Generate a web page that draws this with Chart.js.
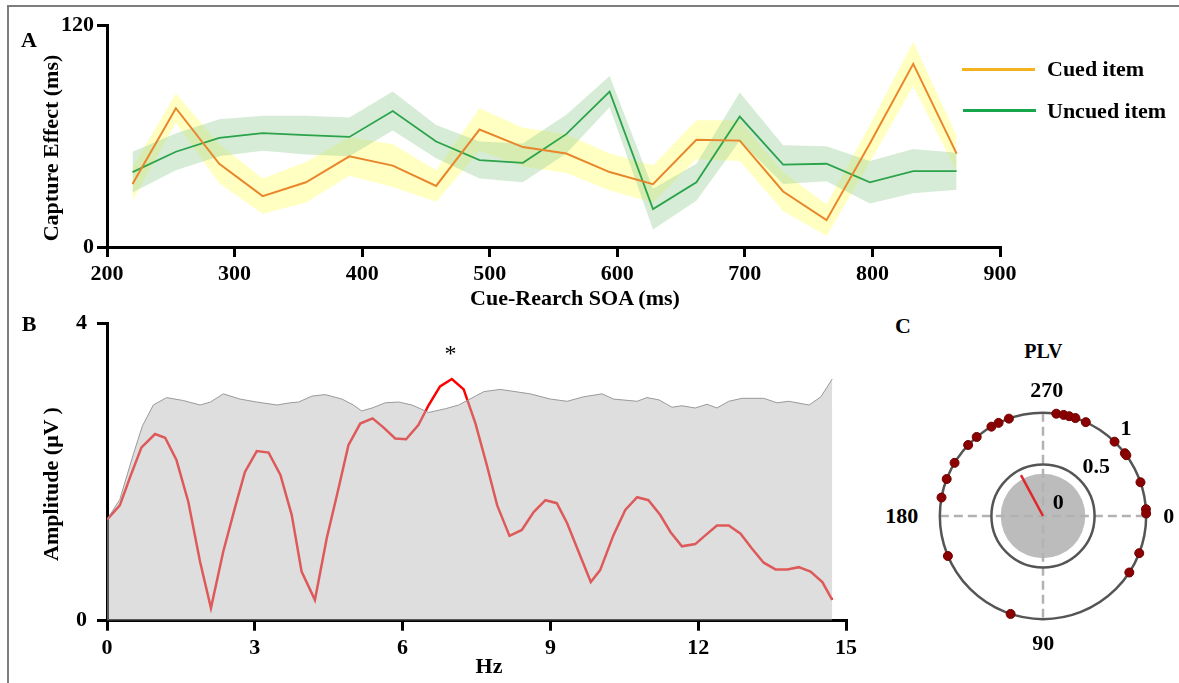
<!DOCTYPE html>
<html><head><meta charset="utf-8">
<script src="https://cdn.jsdelivr.net/npm/chart.js@4.4.0/dist/chart.umd.min.js"></script>
<style>
html,body{margin:0;padding:0;background:#fff;}
body{width:1179px;height:683px;position:relative;overflow:hidden;font-family:"Liberation Serif","Times New Roman",serif;font-weight:bold;color:#000;}
.frame{position:absolute;left:7px;top:5px;width:1200px;height:700px;border:2px solid #7d7d7d;box-sizing:border-box;}
canvas{position:absolute;}
.t{position:absolute;font-size:22px;line-height:1;white-space:nowrap;transform:translate(-50%,-50%);}
.l{position:absolute;font-size:22px;line-height:1;white-space:nowrap;transform:translateY(-50%);}
.rot{transform:translate(-50%,-50%) rotate(-90deg);}
.leg{position:absolute;height:3px;width:73px;}
</style></head><body>
<div class="frame"></div>
<canvas id="cA" width="1030" height="310" style="left:0;top:0;width:1030px;height:310px"></canvas>
<canvas id="cB" width="880" height="383" style="left:0;top:300px;width:880px;height:383px"></canvas>
<canvas id="cC" width="246" height="246" style="left:920px;top:393px;width:246px;height:246px"></canvas>

<div class="t" style="left:29px;top:40px">A</div>
<div class="t" style="left:29px;top:324px">B</div>
<div class="t" style="left:903px;top:326px">C</div>

<div class="t rot" style="left:50.5px;top:147.5px">Capture Effect (ms)</div>
<div class="t" style="left:575px;top:298px">Cue-Rearch SOA (ms)</div>
<div class="t rot" style="left:50.5px;top:483.5px">Amplitude (μV )</div>
<div class="t" style="left:489px;top:665.5px">Hz</div>
<div class="t" style="left:450.5px;top:352.7px;font-weight:normal;font-size:24px">*</div>

<div class="leg" style="left:962px;top:67.5px;background:#f4b21e"></div>
<div class="l" style="left:1047px;top:69px">Cued item</div>
<div class="leg" style="left:963px;top:108.5px;background:#17a64b"></div>
<div class="l" style="left:1047px;top:110.5px">Uncued item</div>

<div class="t" style="left:1043.3px;top:350.8px;font-size:20px">PLV</div>
<div class="t" style="left:1046.7px;top:389.7px">270</div>
<div class="t" style="left:1126px;top:428px">1</div>
<div class="t" style="left:1096.3px;top:466.3px">0.5</div>
<div class="t" style="left:1058.3px;top:502px">0</div>
<div class="t" style="left:901.7px;top:515.8px">180</div>
<div class="t" style="left:1168.7px;top:515.5px">0</div>
<div class="t" style="left:1043.3px;top:642.5px">90</div>

<script>
// ---------- Panel A data ----------
const soa = [220,254,288,322,356,390,424,458,492,526,560,594,628,662,696,730,764,798,832,866];
const cued = [34,75,45,27.5,35,49,44,33,63.5,54,50.5,40.5,34,58,57.5,30,14.5,56,99,50.5];
const cuedErr = [9,8,10.5,9.5,11,10.5,11.5,8.5,11.5,10.5,10.5,10,10,10.5,11,10.5,8.5,10,12,9.5];
const uncued = [40.5,51.5,59,61.5,60.5,59.5,73.5,57,47,45.5,61,84,20.5,35,70.5,44.5,45,35,41,41];
const uncuedErr = [11,10,10,9.5,10.5,10.5,10.5,9,10,10.5,10.5,8.5,11,10,13,10.5,9.5,11.5,12,10];
const xTicksA = [200,300,400,500,600,700,800,900];
const yTicksA = [0,120];

// ---------- Panel B data ----------
const freqAmp = [0,0.26,0.48,0.7,0.975,1.18,1.41,1.65,1.89,2.11,2.36,2.61,2.8,3.04,3.28,3.52,3.75,3.95,4.22,4.46,4.7,4.9,5.14,5.39,5.61,5.85,6.07,6.32,6.53,6.76,7.0,7.24,7.48,7.71,7.92,8.17,8.42,8.66,8.9,9.13,9.34,9.57,9.82,10.01,10.28,10.52,10.76,10.99,11.23,11.44,11.67,11.94,12.15,12.38,12.62,12.86,13.09,13.33,13.57,13.81,14.04,14.28,14.52,14.72];
const ampRed = [1.36,1.55,1.95,2.33,2.51,2.46,2.16,1.6,0.79,0.17,0.93,1.55,2.0,2.28,2.26,1.96,1.42,0.66,0.28,1.11,1.78,2.36,2.65,2.72,2.6,2.45,2.44,2.63,2.9,3.15,3.25,3.11,2.65,2.09,1.55,1.14,1.22,1.46,1.62,1.58,1.31,0.93,0.52,0.68,1.15,1.49,1.66,1.62,1.42,1.19,1.0,1.03,1.15,1.28,1.28,1.17,0.97,0.78,0.69,0.69,0.72,0.66,0.52,0.28];
const freqThr = [0,0.26,0.54,0.72,0.94,1.21,1.55,1.89,2.1,2.36,2.7,3.04,3.45,3.72,3.89,4.16,4.43,4.77,5.0,5.17,5.38,5.65,5.92,6.19,6.53,6.87,7.14,7.48,7.65,7.98,8.59,9.0,9.34,9.67,10.05,10.28,10.76,10.96,11.2,11.47,11.67,11.94,12.18,12.38,12.62,12.89,13.33,13.6,13.84,14.25,14.49,14.72];
const ampThr = [1.36,1.63,2.25,2.62,2.9,3.0,2.96,2.9,2.94,3.05,2.98,2.94,2.9,2.93,2.94,3.02,3.04,2.98,2.9,2.82,2.86,2.93,2.94,2.9,2.8,2.85,2.9,3.02,3.08,3.11,3.05,2.98,2.95,3.01,3.05,2.98,2.95,3.0,2.97,2.87,2.89,2.86,2.91,2.86,2.95,2.99,2.99,2.93,2.95,2.9,3.01,3.25];
const xTicksB = [0,3,6,9,12,15];
const yTicksB = [0,4];

// ---------- Panel C data ----------
const phases = [277.4,281.5,284.7,288.3,294.5,313.9,322.5,323.9,340.9,356.2,358.6,21.1,33.2,108.3,157.2,190.3,201,211,223.5,230,240,244.5,250.7];
const meanPhase = 241.7;
const meanPLV = 0.45;
const plvRings = [0.5, 1];
const plvThreshold = 0.41;

// ---------- shared styles ----------
const tickFont = {family:'"Liberation Serif","Times New Roman",serif', size:22, weight:'bold'};
function axisStyle(padding){
  return {
    ticks:{font:tickFont, color:'#000', padding:padding},
    grid:{drawOnChartArea:false, drawTicks:true, tickLength:10, color:'#000', lineWidth:3},
    border:{display:true, color:'#000', width:3}
  };
}
const common = {responsive:false, maintainAspectRatio:false, animation:false, devicePixelRatio:1,
  plugins:{legend:{display:false}, tooltip:{enabled:false}}};

// ---------- Chart A ----------
const pts = (xs, ys) => xs.map((x,i)=>({x:x, y:ys[i]}));
new Chart(document.getElementById('cA'), {
  type:'line',
  data:{datasets:[
    {data:pts(soa, cued), borderColor:'#e8862c', borderWidth:2, pointRadius:0, fill:false, order:0},
    {data:pts(soa, uncued), borderColor:'#2ba34a', borderWidth:1.8, pointRadius:0, fill:false, order:0},
    {data:pts(soa, cued.map((v,i)=>v+cuedErr[i])), borderWidth:0, pointRadius:0, fill:'+1', backgroundColor:'rgba(255,255,110,0.42)', order:2},
    {data:pts(soa, cued.map((v,i)=>v-cuedErr[i])), borderWidth:0, pointRadius:0, fill:false, order:2},
    {data:pts(soa, uncued.map((v,i)=>v+uncuedErr[i])), borderWidth:0, pointRadius:0, fill:'+1', backgroundColor:'rgba(140,200,140,0.35)', order:1},
    {data:pts(soa, uncued.map((v,i)=>v-uncuedErr[i])), borderWidth:0, pointRadius:0, fill:false, order:1}
  ]},
  options:Object.assign({}, common, {
    layout:{padding:{top:25, right:30, left:0, bottom:0}},
    scales:{
      x:Object.assign(axisStyle(4), {type:'linear', min:200, max:900,
        afterBuildTicks:(a)=>{a.ticks = xTicksA.map(v=>({value:v}));},
        afterFit:(a)=>{a.height = 63;}}),
      y:Object.assign(axisStyle(3), {type:'linear', min:0, max:120,
        afterBuildTicks:(a)=>{a.ticks = yTicksA.map(v=>({value:v}));},
        afterFit:(a)=>{a.width = 107;}})
    }
  })
});

// ---------- Chart B ----------
new Chart(document.getElementById('cB'), {
  type:'line',
  data:{datasets:[
    {data:pts(freqThr, ampThr), borderColor:'#9a9a9a', borderWidth:1, pointRadius:0, fill:'origin', backgroundColor:'rgba(187,187,187,0.48)', order:0},
    {data:pts(freqAmp, ampRed), borderColor:'#ff0000', borderWidth:2.5, pointRadius:0, fill:false, order:1}
  ]},
  options:Object.assign({}, common, {
    layout:{padding:{top:22.7, right:34, left:0, bottom:0}},
    scales:{
      x:Object.assign(axisStyle(4), {type:'linear', min:0, max:15,
        afterBuildTicks:(a)=>{a.ticks = xTicksB.map(v=>({value:v}));},
        afterFit:(a)=>{a.height = 62.3;}}),
      y:Object.assign(axisStyle(10), {type:'linear', min:0, max:4,
        afterBuildTicks:(a)=>{a.ticks = yTicksB.map(v=>({value:v}));},
        afterFit:(a)=>{a.width = 107;}})
    }
  })
});

// ---------- Chart C ----------
const rad = d => d*Math.PI/180;
const polarDecor = {
  id:'polarDecor',
  beforeDatasetsDraw(chart){
    const {ctx, scales:{x, y}} = chart;
    const cx = x.getPixelForValue(0), cy = y.getPixelForValue(0);
    const R = v => Math.abs(x.getPixelForValue(v) - cx);
    ctx.save();
    ctx.fillStyle = '#bcbcbc';
    ctx.beginPath(); ctx.arc(cx, cy, R(plvThreshold), 0, 2*Math.PI); ctx.fill();
    ctx.setLineDash([9,5]); ctx.strokeStyle = '#b2b2b2'; ctx.lineWidth = 2.5;
    ctx.beginPath();
    ctx.moveTo(x.getPixelForValue(-1), cy); ctx.lineTo(x.getPixelForValue(1), cy);
    ctx.moveTo(cx, y.getPixelForValue(-1)); ctx.lineTo(cx, y.getPixelForValue(1));
    ctx.stroke();
    ctx.setLineDash([]); ctx.strokeStyle = '#555'; ctx.lineWidth = 2.5;
    plvRings.forEach(r=>{ ctx.beginPath(); ctx.arc(cx, cy, R(r), 0, 2*Math.PI); ctx.stroke(); });
    ctx.restore();
  }
};
new Chart(document.getElementById('cC'), {
  type:'scatter',
  data:{datasets:[
    {data:phases.map(p=>({x:Math.cos(rad(p)), y:Math.sin(rad(p))})), pointRadius:4.5, pointBackgroundColor:'#8b0000', pointBorderColor:'#6e0000', pointBorderWidth:1, order:0},
    {data:[{x:0,y:0},{x:meanPLV*Math.cos(rad(meanPhase)), y:meanPLV*Math.sin(rad(meanPhase))}], showLine:true, borderColor:'#e0262a', borderWidth:2.5, pointRadius:0, order:1}
  ]},
  options:Object.assign({}, common, {
    layout:{padding:0},
    scales:{
      x:{type:'linear', min:-1.139, max:1.139, display:false},
      y:{type:'linear', min:-1.139, max:1.139, display:false, reverse:true}
    }
  }),
  plugins:[polarDecor]
});
</script>
</body></html>
